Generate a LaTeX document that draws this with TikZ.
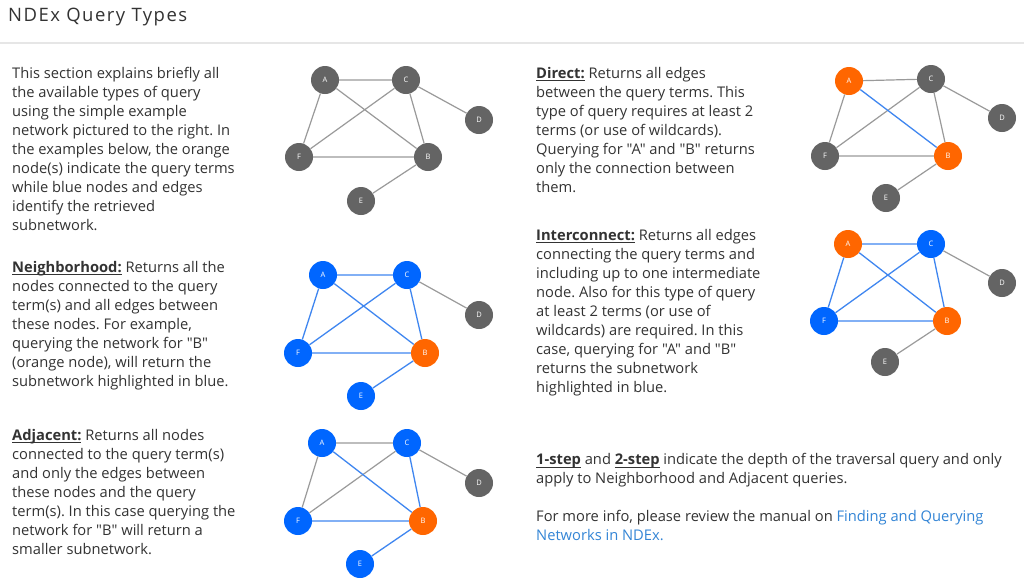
\documentclass[tikz,border=0pt]{standalone}
\usepackage{fontspec}
\setmainfont{Open Sans}[Ligatures=TeXOff]
\frenchspacing
\definecolor{txt}{HTML}{333333}
\definecolor{ngray}{HTML}{646464}
\definecolor{nblue}{HTML}{0066FF}
\definecolor{norange}{HTML}{FF6600}
\definecolor{egray}{HTML}{9A9A9A}
\definecolor{eblue}{HTML}{3F86F0}
\definecolor{linkc}{HTML}{3385D6}
\definecolor{rulec}{HTML}{E6E6E6}
\tikzset{
  gnode/.style={circle,fill=ngray,minimum size=28pt,inner sep=0pt,text=white,font=\fontsize{7.5}{8}\selectfont},
  bnode/.style={gnode,fill=nblue},
  onode/.style={gnode,fill=norange},
  gedge/.style={draw=egray,line width=1.2pt},
  bedge/.style={draw=eblue,line width=1.3pt},
  para/.style={anchor=north west,align=left,inner sep=0pt,text=txt,font=\fontsize{14.7}{19}\selectfont\frenchspacing},
}
\newsavebox\hdbox
\newcommand\hd[1]{\sbox\hdbox{\textbf{#1}}\leavevmode\rlap{\rule[-2.6pt]{\wd\hdbox}{0.9pt}}\usebox\hdbox}
\begin{document}
\begin{tikzpicture}[x=1pt,y=-1pt]
\useasboundingbox (0,0) rectangle (1024,587);
\fill[white] (0,0) rectangle (1024,587);
% title
\node[anchor=base west,inner sep=0pt,text=txt,font=\fontsize{18.5}{22}\selectfont\addfontfeatures{LetterSpace=8}] (title) at (8,21) {NDEx Query Types};
\fill[rulec] (0,41.5) rectangle (1024,43.5);

% left texts
\node[para] (intro) at (12,67.4) {This section explains briefly all\\the available types of query\\using the simple example\\network pictured to the right. In\\the examples below, the orange\\node(s) indicate the query terms\\while blue nodes and edges\\identify the retrieved\\subnetwork.};
\node[para] (neigh) at (12,261.4) {\hd{Neighborhood:} Returns all the\\nodes connected to the query\\term(s) and all edges between\\these nodes. For example,\\querying the network for "B"\\(orange node), will return the\\subnetwork highlighted in blue.};
\node[para] (adj) at (12,429.4) {\hd{Adjacent:} Returns all nodes\\connected to the query term(s)\\and only the edges between\\these nodes and the query\\term(s). In this case querying the\\network for "B" will return a\\smaller subnetwork.};
% right texts
\node[para] (direct) at (536,67.4) {\hd{Direct:} Returns all edges\\between the query terms. This\\type of query requires at least 2\\terms (or use of wildcards).\\Querying for "A" and "B" returns\\only the connection between\\them.};
\node[para] (inter) at (536,229.4) {\hd{Interconnect:} Returns all edges\\connecting the query terms and\\including up to one intermediate\\node. Also for this type of query\\at least 2 terms (or use of\\wildcards) are required. In this\\case, querying for "A" and "B"\\returns the subnetwork\\highlighted in blue.};
\node[para] (steps) at (536,453.4) {\hd{1-step} and \hd{2-step} indicate the depth of the traversal query and only\\apply to Neighborhood and Adjacent queries.};
\node[para] (more) at (536,510.4) {For more info, please review the manual on \textcolor{linkc}{Finding and Querying}\\\textcolor{linkc}{Networks in NDEx.}};

% graph 1: base
\node[gnode] (g1a) at (325,80) {A};
\node[gnode] (g1c) at (406,80) {C};
\node[gnode] (g1d) at (479,120) {D};
\node[gnode] (g1f) at (299,157) {F};
\node[gnode] (g1b) at (428,157) {B};
\node[gnode] (g1e) at (361,201) {E};
\path[gedge] (g1a)--(g1c) (g1a)--(g1f) (g1a)--(g1b) (g1c)--(g1f) (g1c)--(g1b) (g1c)--(g1d) (g1f)--(g1b) (g1b)--(g1e);

% graph 2: neighborhood
\node[bnode] (g2a) at (323,275) {A};
\node[bnode] (g2c) at (407,275) {C};
\node[gnode] (g2d) at (479,315) {D};
\node[bnode] (g2f) at (298,353) {F};
\node[onode] (g2b) at (425,353) {B};
\node[bnode] (g2e) at (361,396) {E};
\path[bedge] (g2a)--(g2c) (g2a)--(g2f) (g2a)--(g2b) (g2c)--(g2f) (g2c)--(g2b) (g2f)--(g2b) (g2b)--(g2e);
\path[gedge] (g2c)--(g2d);

% graph 3: adjacent
\node[bnode] (g3a) at (322,443) {A};
\node[bnode] (g3c) at (407,443) {C};
\node[gnode] (g3d) at (479,483) {D};
\node[bnode] (g3f) at (298,521) {F};
\node[onode] (g3b) at (423,521) {B};
\node[bnode] (g3e) at (360,564) {E};
\path[gedge] (g3a)--(g3c) (g3a)--(g3f) (g3c)--(g3f) (g3c)--(g3d);
\path[bedge] (g3a)--(g3b) (g3c)--(g3b) (g3f)--(g3b) (g3b)--(g3e);

% graph 4: direct
\node[onode] (g4a) at (849,81) {A};
\node[gnode] (g4c) at (931,79) {C};
\node[gnode] (g4d) at (1002,118) {D};
\node[gnode] (g4f) at (825,156) {F};
\node[onode] (g4b) at (948,156) {B};
\node[gnode] (g4e) at (886,198) {E};
\path[gedge] (g4a)--(g4c) (g4a)--(g4f) (g4c)--(g4f) (g4c)--(g4b) (g4c)--(g4d) (g4f)--(g4b) (g4b)--(g4e);
\path[bedge] (g4a)--(g4b);

% graph 5: interconnect
\node[onode] (g5a) at (848,244) {A};
\node[bnode] (g5c) at (931,244) {C};
\node[gnode] (g5d) at (1002,283) {D};
\node[bnode] (g5f) at (824,321) {F};
\node[onode] (g5b) at (947,321) {B};
\node[gnode] (g5e) at (885,362) {E};
\path[bedge] (g5a)--(g5c) (g5a)--(g5f) (g5a)--(g5b) (g5c)--(g5f) (g5c)--(g5b) (g5f)--(g5b);
\path[gedge] (g5c)--(g5d) (g5b)--(g5e);
\end{tikzpicture}
\end{document}
